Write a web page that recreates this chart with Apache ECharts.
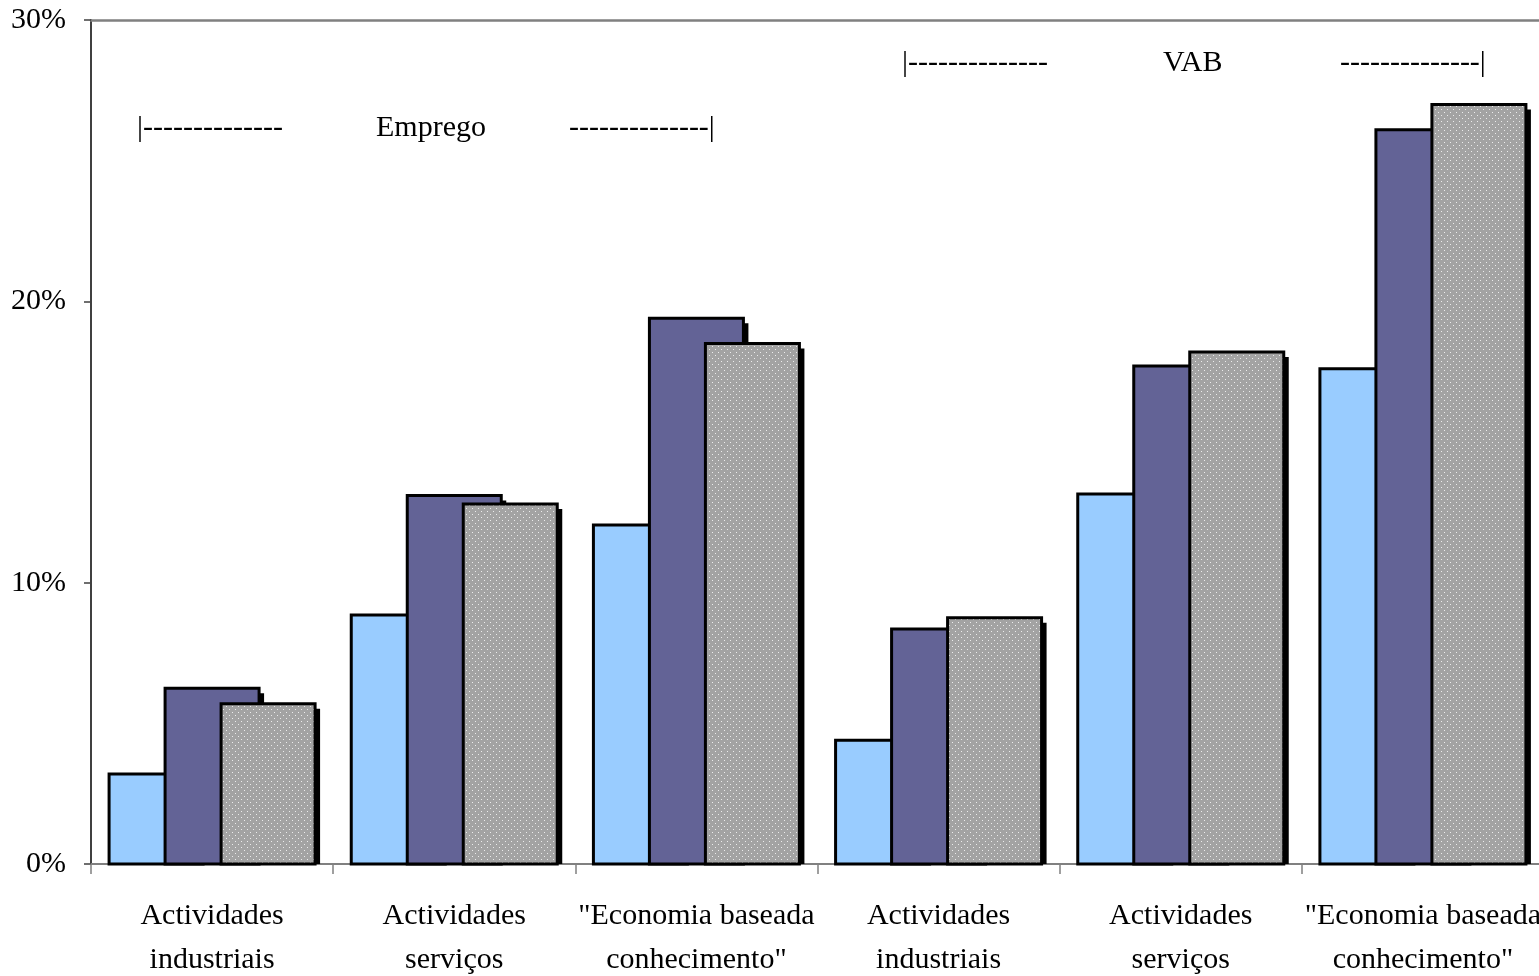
<!DOCTYPE html>
<html>
<head>
<meta charset="utf-8">
<script src="https://cdn.jsdelivr.net/npm/echarts@6/dist/echarts.min.js"></script>
<style>
html,body{margin:0;padding:0;background:#fff;}
#chart{width:1539px;height:976px;}
</style>
</head>
<body>
<div id="chart"></div>
<script>
const categories = ['Actividades\nindustriais', 'Actividades\nserviços', '"Economia baseada\nconhecimento"',
                    'Actividades\nindustriais', 'Actividades\nserviços', '"Economia baseada\nconhecimento"'];
const serie1 = [3.2, 8.85, 12.05, 4.4, 13.15, 17.6];
const serie2 = [6.25, 13.1, 19.4, 8.35, 17.7, 26.1];
const serie3 = [5.7, 12.8, 18.5, 8.75, 18.2, 27.0];
const yTicks = [0, 10, 20, 30];

function dotPattern() {
  const c = document.createElement('canvas');
  c.width = 6; c.height = 6;
  const g = c.getContext('2d');
  g.fillStyle = '#a3a3a3';
  g.fillRect(0, 0, 6, 6);
  g.fillStyle = '#ececec';
  g.fillRect(1, 1, 1, 1);
  g.fillRect(4, 4, 1, 1);
  return c;
}

const BAR_W = 94;
const SHADOW = 5;

function barRenderer(offsetPx, fill, withShadow) {
  return function (params, api) {
    const i = api.value(0);
    const v = api.value(1);
    const top = api.coord([i, v]);
    const base = api.coord([i, 0]);
    const x = top[0] + offsetPx - BAR_W / 2;
    const y = top[1];
    const h = base[1] - top[1];
    const children = [];
    if (withShadow) {
      children.push({
        type: 'rect',
        shape: {x: x + SHADOW, y: y + SHADOW, width: BAR_W, height: Math.max(0, h - SHADOW)},
        style: {fill: '#000'}
      });
    }
    children.push({
      type: 'rect',
      shape: {x: x, y: y, width: BAR_W, height: h},
      style: {fill: fill, stroke: '#000', lineWidth: 3}
    });
    return {type: 'group', children: children};
  };
}

function toData(arr) { return arr.map(function (v, i) { return [i, v]; }); }

const chart = echarts.init(document.getElementById('chart'));
const font = 'Liberation Serif';

chart.setOption({
  animation: false,
  backgroundColor: '#fff',
  grid: {left: 91, top: 20, width: 1453, height: 844, outerBoundsMode: 'none', containLabel: false},
  xAxis: [{
    type: 'category',
    data: categories,
    position: 'bottom',
    axisLine: {lineStyle: {color: '#808080', width: 2}},
    axisTick: {show: true, length: 10, lineStyle: {color: '#808080', width: 1.5}},
    axisLabel: {fontFamily: font, fontSize: 30, color: '#000', margin: 30, lineHeight: 44, interval: 0}
  }, {
    type: 'category',
    data: categories,
    position: 'top',
    axisLine: {lineStyle: {color: '#808080', width: 2.5}},
    axisTick: {show: false},
    axisLabel: {show: false}
  }],
  yAxis: {
    type: 'value',
    min: yTicks[0], max: yTicks[yTicks.length - 1], interval: 10,
    axisLine: {show: true, lineStyle: {color: '#404040', width: 2}},
    axisTick: {show: true, length: 7, lineStyle: {color: '#404040', width: 1.5}},
    splitLine: {show: false},
    axisLabel: {fontFamily: font, fontSize: 30, color: '#000', margin: 25, formatter: '{value}%'}
  },
  series: [{
    type: 'custom', data: toData(serie1), encode: {x: 0, y: 1},
    renderItem: barRenderer(-56, '#99ccff', false)
  }, {
    type: 'custom', data: toData(serie2), encode: {x: 0, y: 1},
    renderItem: barRenderer(0, '#636396', true)
  }, {
    type: 'custom', data: toData(serie3), encode: {x: 0, y: 1},
    renderItem: barRenderer(56, {image: dotPattern(), repeat: 'repeat'}, true)
  }],
  graphic: [
    {type: 'text', left: 137, top: 113, style: {text: '|--------------', font: '30px "Liberation Serif"', fill: '#000'}},
    {type: 'text', left: 376, top: 113, style: {text: 'Emprego', font: '30px "Liberation Serif"', fill: '#000'}},
    {type: 'text', left: 569, top: 113, style: {text: '--------------|', font: '30px "Liberation Serif"', fill: '#000'}},
    {type: 'text', left: 902, top: 48, style: {text: '|--------------', font: '30px "Liberation Serif"', fill: '#000'}},
    {type: 'text', left: 1163, top: 48, style: {text: 'VAB', font: '30px "Liberation Serif"', fill: '#000'}},
    {type: 'text', left: 1340, top: 48, style: {text: '--------------|', font: '30px "Liberation Serif"', fill: '#000'}}
  ]
});
</script>
</body>
</html>
